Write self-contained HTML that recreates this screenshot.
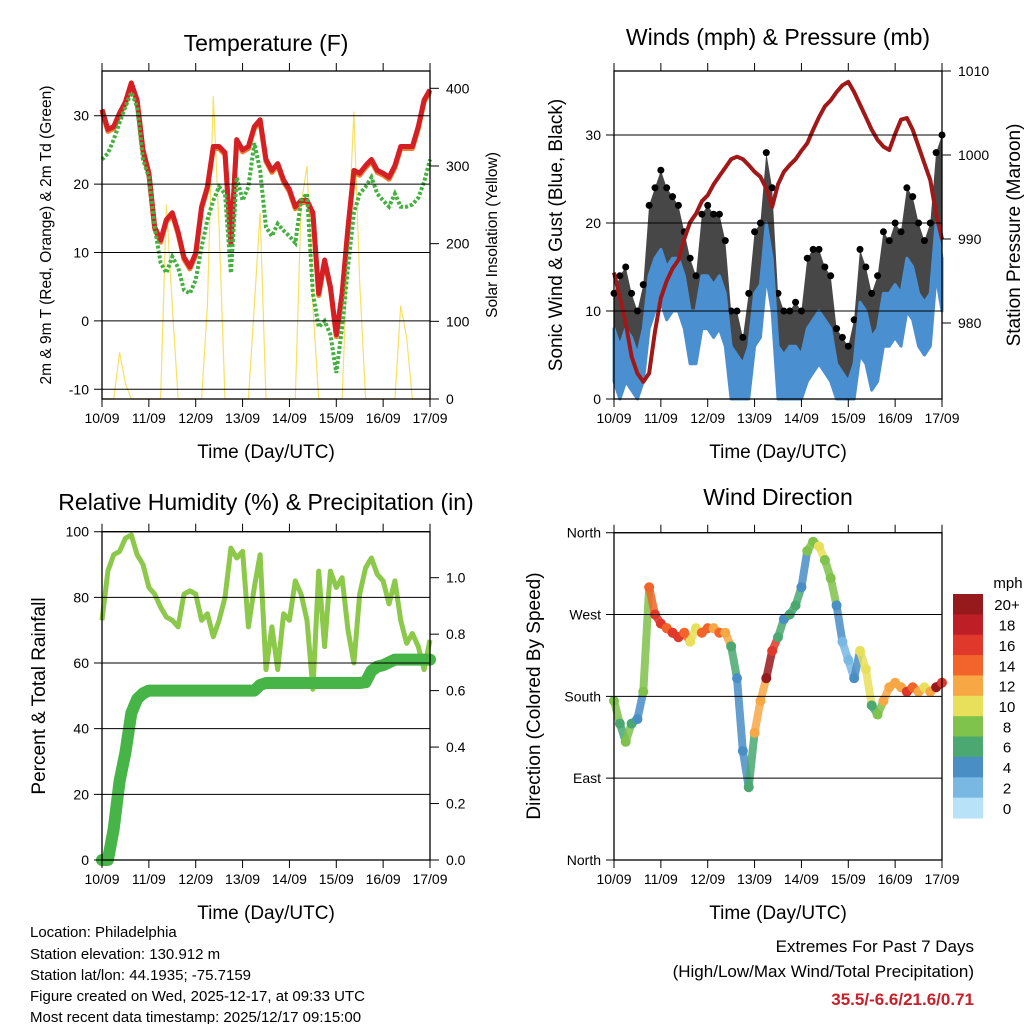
<!DOCTYPE html>
<html><head><meta charset="utf-8"><style>
body{margin:0;background:#fff;}
svg text{font-family:"Liberation Sans",sans-serif;fill:#000;}
</style></head><body>
<svg id="chart" width="1024" height="1024" viewBox="0 0 1024 1024" xmlns="http://www.w3.org/2000/svg">
<rect width="1024" height="1024" fill="#fff"/>
<g id="layer"></g>
<text x="266" y="51" font-size="23" text-anchor="middle">Temperature (F)</text>
<text x="778" y="45" font-size="23" text-anchor="middle">Winds (mph) &amp; Pressure (mb)</text>
<text x="266" y="510" font-size="23" text-anchor="middle">Relative Humidity (%) &amp; Precipitation (in)</text>
<text x="778" y="505" font-size="23" text-anchor="middle">Wind Direction</text>
<text x="266" y="458" font-size="19" text-anchor="middle">Time (Day/UTC)</text>
<text x="778" y="458" font-size="19" text-anchor="middle">Time (Day/UTC)</text>
<text x="266" y="919" font-size="19" text-anchor="middle">Time (Day/UTC)</text>
<text x="778" y="919" font-size="19" text-anchor="middle">Time (Day/UTC)</text>
<text transform="translate(51,235) rotate(-90)" font-size="15.5" text-anchor="middle">2m &amp; 9m T (Red, Orange) &amp; 2m Td (Green)</text>
<text transform="translate(497,235) rotate(-90)" font-size="15.5" text-anchor="middle">Solar Insolation (Yellow)</text>
<text transform="translate(562,235) rotate(-90)" font-size="19" text-anchor="middle">Sonic Wind &amp; Gust (Blue, Black)</text>
<text transform="translate(1020,235) rotate(-90)" font-size="19" text-anchor="middle">Station Pressure (Maroon)</text>
<text transform="translate(45,696) rotate(-90)" font-size="19" text-anchor="middle">Percent &amp; Total Rainfall</text>
<text transform="translate(540,696) rotate(-90)" font-size="19" text-anchor="middle">Direction (Colored By Speed)</text>
<g font-size="15">
<text x="30" y="937">Location: Philadelphia</text>
<text x="30" y="959">Station elevation: 130.912 m</text>
<text x="30" y="980">Station lat/lon: 44.1935; -75.7159</text>
<text x="30" y="1001">Figure created on Wed, 2025-12-17, at 09:33 UTC</text>
<text x="30" y="1022">Most recent data timestamp: 2025/12/17 09:15:00</text>
</g>
<g text-anchor="end">
<text x="974" y="952" font-size="17">Extremes For Past 7 Days</text>
<text x="974" y="977" font-size="17">(High/Low/Max Wind/Total Precipitation)</text>
<text x="974" y="1005" font-size="17" font-weight="bold" style="fill:#c8202a">35.5/-6.6/21.6/0.71</text>
</g>
</svg>
<script>
const days=['10/09','11/09','12/09','13/09','14/09','15/09','16/09','17/09'];
const tempRed=[30.9,28,28.4,30.4,32,34.8,32.3,25,21.6,13.7,11.8,14.8,15.8,13,9.3,7.9,9.9,16.7,19.6,25.5,25.5,24.6,11.4,26.5,25,25.5,28.4,29.4,23.6,22,23,20.6,19.2,16.7,17.6,17.6,15.8,4,8.9,5,-2,4,13.7,22,21.6,22.7,23.6,22,21.6,21,22.7,25.5,25.5,25.5,28.4,32.3,33.8];
const dewGreen=[23.6,24.5,26.5,29,31.3,33.4,31.3,23.6,21,13.7,8.5,7,9.4,7.8,4.5,4,6,10.8,14.8,17.6,19.6,18.6,7,21,17.6,19.6,26,22,13.7,12.4,14.2,13.2,12.4,11.4,17.6,18.6,4,-0.9,0,-2,-7.6,-0.9,7.9,15.8,18.6,19.6,21,18.6,17.6,16.7,18.6,16.7,16.7,17,18,20.3,23.6];
const solar=[0,0,0,60,20,0,0,0,0,0,0,250,120,0,0,0,0,0,120,390,220,0,0,0,0,0,120,240,0,0,0,0,0,0,250,300,120,0,0,0,0,0,200,370,150,0,0,0,0,0,0,120,80,0,0,0,0];
const windSpd=[8,6,8,7,5,8,14,16,17,15,16,16,14,10,10,14,14,13,14,12,6,5,4,6,12,13,20,16,6,5,6,6,5,8,9,10,9,8,4,3,2,4,11,10,7,8,12,12,13,12,16,15,12,11,12,20,16];
const gustSpd=[12,14,15,12,10,13,22,24,26,24,23,22,19,16,14,21,22,21,21,18,10,10,7,12,19,20,28,24,12,10,10,11,10,16,17,17,15,14,8,7,6,9,17,15,12,14,19,18,20,19,24,23,20,18,20,28,30];
const pressure=[986,983,980,976,974,973,974,979,983,985,986.5,987.5,990,992,993,994.5,995.2,996.5,997.5,998.5,999.5,999.8,999.5,998.8,998,997.4,996,993.8,996.5,998,998.8,999.5,1000.5,1001.4,1003,1004.5,1005.8,1006.5,1007.5,1008.3,1008.7,1007.5,1006,1004.5,1003,1001.8,1001,1000.6,1002.5,1004.2,1004.4,1003,1001,999,997,993,990];
const rh=[73,88,93,94,98,99,93,90,83,81,77,74,73,71,81,82,81,73,75,68,73,80,95,92,94,71,83,93,58,71,58,75,73,85,81,73,52,88,65,88,83,86,70,60,81,89,92,87,85,78,85,73,66,69,65,58,67];
const precip=[0,0,0.11,0.28,0.38,0.52,0.57,0.59,0.6,0.6,0.6,0.6,0.6,0.6,0.6,0.6,0.6,0.6,0.6,0.6,0.6,0.6,0.6,0.6,0.6,0.6,0.6,0.62,0.627,0.627,0.627,0.627,0.627,0.627,0.627,0.627,0.627,0.627,0.627,0.627,0.627,0.627,0.627,0.627,0.627,0.63,0.67,0.685,0.69,0.70,0.71,0.71,0.71,0.71,0.71,0.71,0.71];
const windDir=[175,150,130,150,155,185,300,270,260,255,250,245,250,240,255,250,255,255,250,250,235,200,120,80,140,175,200,230,245,265,270,280,300,340,350,345,330,310,280,240,220,200,230,210,170,160,175,190,195,190,185,190,185,190,185,190,195];
const speedBins=['20+','18','16','14','12','10','8','6','4','2','0'];
const binColors=['#961a1c','#be1e26','#e0382a','#f26429','#f7a845','#e8e05a','#7fc24c','#4aa870','#4a8ec6','#7ab8e4','#b8e2f8'];

const NS='http://www.w3.org/2000/svg';
const L=document.getElementById('layer');
function mk(tag,attrs,parent){const e=document.createElementNS(NS,tag);for(const k in attrs)e.setAttribute(k,attrs[k]);(parent||L).appendChild(e);return e;}
function xs(x0,x1){return i=>x0+(x1-x0)*i/(windSpd.length-1);}
function lin(v0,y0,v1,y1){return v=>y0+(v-v0)*(y1-y0)/(v1-v0);}
function pathOf(arr,fx,fy){return arr.map((v,i)=>(i?'L':'M')+fx(i).toFixed(1)+','+fy(v).toFixed(1)).join('');}

function frame(x0,x1,y0,y1,leftTicks,leftLab,fyL,rightTicks,rightLab,fyR,name){
  const g=mk('g',{});
  
  
  leftTicks.forEach((v,i)=>{const y=fyL(v);
    mk('line',{x1:x0-8,x2:x1,y1:y,y2:y,stroke:'#000','stroke-width':1},g);
    const t=mk('text',{x:x0-13,y:y+5,'font-size':14,'text-anchor':'end'},g);t.textContent=leftLab[i];});
  if(rightTicks) rightTicks.forEach((v,i)=>{const y=fyR(v);
    mk('line',{x1:x1,x2:x1+9,y1:y,y2:y,stroke:'#000','stroke-width':1},g);
    const t=mk('text',{x:x1+16,y:y+5,'font-size':14},g);t.textContent=rightLab[i];});
  mk('rect',{x:x0,y:y0,width:x1-x0,height:y1-y0,fill:'none',stroke:'#000','stroke-width':1.3},g);
  days.forEach((d,i)=>{const x=x0+(x1-x0)*i/7;
    mk('line',{x1:x,x2:x,y1:y0-8,y2:y0,stroke:'#000'},g);
    mk('line',{x1:x,x2:x,y1:y1,y2:y1+8,stroke:'#000'},g);
    const t=mk('text',{x:x,y:y1+24,'font-size':14,'text-anchor':'middle'},g);t.textContent=d;});
  return g;
}

// Panel 1: temperature
(function(){
  const fx=xs(102,430), fy=lin(-10,389.3,30,115.7), fs=lin(0,399,400,88.3);
  const g=mk('g',{});
  
  
  const s=mk('path',{d:pathOf(solar,fx,fs),fill:'none',stroke:'#f8e060','stroke-width':1.2},g);
  
  
  const o=mk('path',{d:pathOf(tempRed,fx,fy),fill:'none',stroke:'#f08030','stroke-width':5,transform:'translate(0,2)','stroke-linejoin':'round'},g);
  
  
  const r=mk('path',{d:pathOf(tempRed,fx,fy),fill:'none',stroke:'#d42024','stroke-width':5,'stroke-linejoin':'round'},g);
  
  
  const gr=mk('path',{d:pathOf(dewGreen,fx,fy),fill:'none',stroke:'#44b040','stroke-width':4,'stroke-dasharray':'3 2'},g);
  
  
  frame(102,430,71,399,[-10,0,10,20,30],['-10','0','10','20','30'],fy,[0,100,200,300,400],['0','100','200','300','400'],fs,'temperature');
})();

// Panel 2: winds & pressure
(function(){
  const fx=xs(614,942), fy=lin(0,399,30,135), fp=lin(990,239,1000,155);
  const g=mk('g',{});
  
  
  const top=gustSpd.map((v,i)=>fx(i).toFixed(1)+','+fy(v).toFixed(1));
  const bot=windSpd.map((v,i)=>fx(i).toFixed(1)+','+fy(v).toFixed(1)).reverse();
  const gb=mk('polygon',{points:top.concat(bot).join(' '),fill:'#000','fill-opacity':0.72,stroke:'none'},g);
  
  
  gustSpd.forEach((v,i)=>{const c=mk('circle',{cx:fx(i),cy:fy(v),r:3.5,fill:'#000'},g);
    
    });
  const wt=windSpd.map((v,i)=>fx(i).toFixed(1)+','+fy(v).toFixed(1));
  const wb=windSpd.map((v,i)=>fx(i).toFixed(1)+','+fy(Math.max(0,v-6)).toFixed(1)).reverse();
  const wl=mk('polygon',{points:wt.concat(wb).join(' '),fill:'#4a90d0',stroke:'#4a90d0','stroke-width':3,'stroke-linejoin':'round'},g);
  
  
  const p=mk('path',{d:pathOf(pressure,fx,fp),fill:'none',stroke:'#a01818','stroke-width':4,'stroke-linejoin':'round'},g);
  
  
  frame(614,942,71,399,[0,10,20,30],['0','10','20','30'],fy,[980,990,1000,1010],['980','990','1000','1010'],fp,'winds');
})();

// Panel 3: RH & precip
(function(){
  const fx=xs(102,430), fy=lin(0,860,100,531.7), fr=lin(0,860,1,577.7);
  const g=mk('g',{});
  
  
  const h=mk('path',{d:pathOf(rh,fx,fy),fill:'none',stroke:'#8cc84a','stroke-width':5,'stroke-linejoin':'round'},g);
  
  
  const pr=mk('path',{d:pathOf(precip,fx,fr),fill:'none',stroke:'#46b446','stroke-width':12,'stroke-linejoin':'round','stroke-linecap':'round'},g);
  
  
  frame(102,430,531.7,860,[0,20,40,60,80,100],['0','20','40','60','80','100'],fy,[0,0.2,0.4,0.6,0.8,1.0],['0.0','0.2','0.4','0.6','0.8','1.0'],fr,'humidity');
})();

// Panel 4: wind direction
(function(){
  const fx=xs(614,942), fy=lin(0,860,360,532.7);
  const g=mk('g',{});
  
  
  function col(s){const b=Math.min(10,Math.floor(s/2));return binColors[10-b];}
  for(let i=0;i<windDir.length-1;i++){
    const s=mk('line',{x1:fx(i),y1:fy(windDir[i]),x2:fx(i+1),y2:fy(windDir[i+1]),stroke:col(windSpd[i]),'stroke-width':8,'stroke-linecap':'round',opacity:0.85},g);
    
    
  }
  windDir.forEach((v,i)=>{const c=mk('circle',{cx:fx(i),cy:fy(v),r:5,fill:col(windSpd[i])},g);
    
    });
  frame(614,942,532.7,860,[0,90,180,270,360],['North','East','South','West','North'],fy,null,null,null,'wind-direction');
  const cb=mk('g',{});
  
  
  const bh=(818-594)/speedBins.length;
  speedBins.forEach((lab,i)=>{
    const r=mk('rect',{x:953,y:594+i*bh,width:30,height:bh+0.5,fill:binColors[i]},cb);
    
    
    const t=mk('text',{x:1007,y:594+i*bh+bh/2+6,'font-size':15,'text-anchor':'middle'},cb);t.textContent=lab;});
  const m=mk('text',{x:1008,y:588,'font-size':15,'text-anchor':'middle'},cb);m.textContent='mph';
})();
</script>
</body></html>
